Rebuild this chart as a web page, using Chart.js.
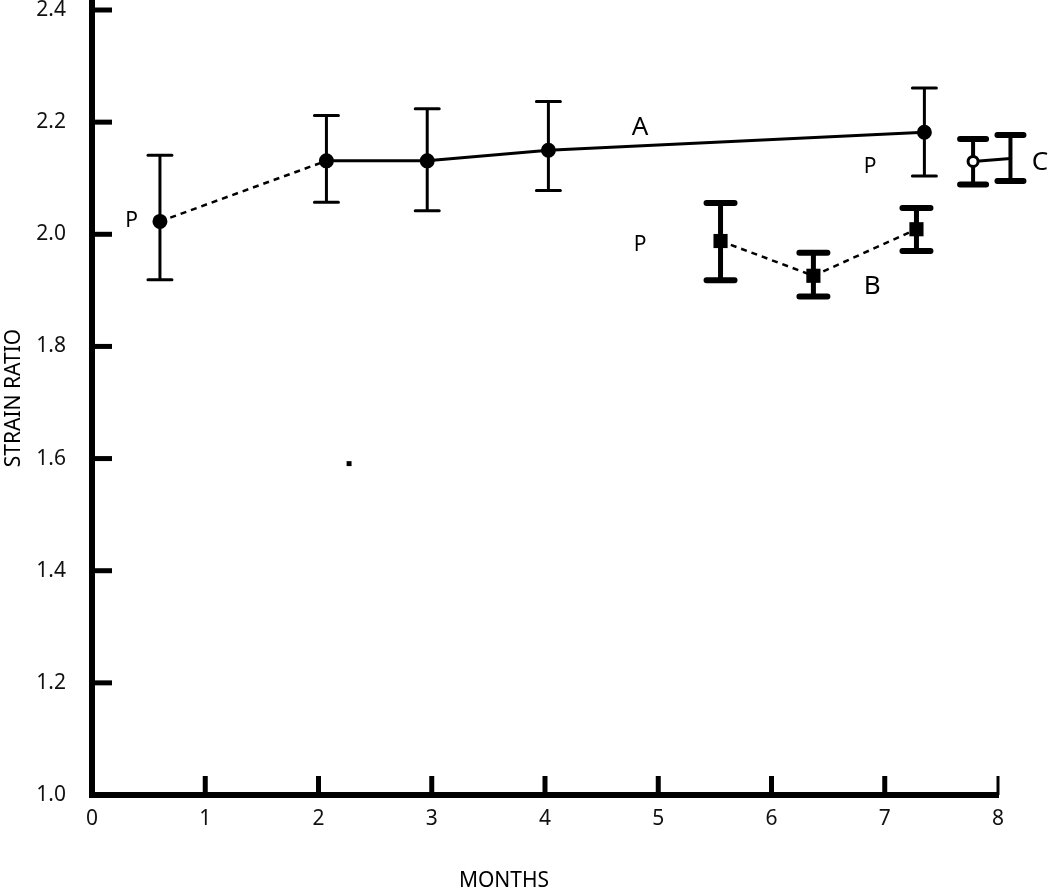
<!doctype html>
<html>
<head>
  <meta charset="utf-8">
  <title>Strain Ratio</title>
  <style>
    html, body { margin: 0; padding: 0; background: #fff; }
    .chartBox { width: 1050px; height: 892px; }
  </style>
</head>
<body>
  <div class="chartBox"><canvas id="myChart"></canvas></div>

  <script src="https://cdn.jsdelivr.net/npm/chart.js"></script>
  <script>
    // series A (filled circles)
    const monthsA = [0.6, 2.07, 2.96, 4.03, 7.35];
    const ratioA = [2.023, 2.131, 2.131, 2.15, 2.182];
    const lowA = [1.919, 2.057, 2.042, 2.078, 2.104];
    const highA = [2.141, 2.212, 2.224, 2.237, 2.261];

    // series B (filled squares)
    const monthsB = [5.55, 6.37, 7.28];
    const ratioB = [1.988, 1.926, 2.009];
    const lowB = [1.918, 1.889, 1.970];
    const highB = [2.056, 1.967, 2.047];

    // series C (open circles)
    const monthsC = [7.78, 8.11];
    const ratioC = [2.130, 2.135];
    const lowC = [2.089, 2.095];
    const highC = [2.170, 2.177];

    // stray speck in the original figure
    const speckX = [2.27];
    const speckY = [1.591];

    const xTicks = [0, 1, 2, 3, 4, 5, 6, 7, 8];
    const yTicks = [1.0, 1.2, 1.4, 1.6, 1.8, 2.0, 2.2, 2.4];

    const notes = [
      { text: 'P', x: 0.35, y: 2.023, size: 21 },
      { text: 'P', x: 4.84, y: 1.98, size: 21 },
      { text: 'P', x: 6.87, y: 2.12, size: 21 },
      { text: 'A', x: 4.84, y: 2.19, size: 26 },
      { text: 'B', x: 6.89, y: 1.906, size: 26 },
      { text: 'C', x: 8.37, y: 2.127, size: 26 }
    ];

    const FONT = "'Noto Sans', 'Open Sans', sans-serif";
    const pts = (xs, ys) => xs.map((x, i) => ({ x: x, y: ys[i] }));

    const errBars = [
      { ds: 0, low: lowA, high: highA, cap: 12, capW: 3, w: 3 },
      { ds: 1, low: lowB, high: highB, cap: 14, capW: 6, w: 5 },
      { ds: 2, low: lowC, high: highC, cap: 13, capW: 6, w: 4 }
    ];

    const errorBarPlugin = {
      id: 'errorBars',
      beforeDatasetsDraw(chart) {
        const { ctx, scales: { x, y } } = chart;
        ctx.save();
        ctx.strokeStyle = '#000';
        errBars.forEach((e) => {
          const d = chart.data.datasets[e.ds].data;
          d.forEach((p, i) => {
            const px = x.getPixelForValue(p.x);
            const yl = y.getPixelForValue(e.low[i]);
            const yh = y.getPixelForValue(e.high[i]);
            ctx.lineWidth = e.w;
            ctx.lineCap = 'butt';
            ctx.beginPath();
            ctx.moveTo(px, yl);
            ctx.lineTo(px, yh);
            ctx.stroke();
            ctx.lineWidth = e.capW;
            ctx.lineCap = 'round';
            ctx.beginPath();
            ctx.moveTo(px - e.cap, yl);
            ctx.lineTo(px + e.cap, yl);
            ctx.moveTo(px - e.cap, yh);
            ctx.lineTo(px + e.cap, yh);
            ctx.stroke();
          });
        });
        ctx.restore();
      }
    };

    const decorPlugin = {
      id: 'decor',
      afterDraw(chart) {
        const { ctx, scales: { x, y } } = chart;
        ctx.save();
        ctx.strokeStyle = '#000';
        ctx.fillStyle = '#000';
        ctx.lineWidth = 5;
        ctx.lineCap = 'butt';
        // inward tick marks
        const x0 = x.getPixelForValue(0);
        const y0 = y.getPixelForValue(1.0);
        yTicks.slice(1).forEach((v) => {
          const py = y.getPixelForValue(v);
          ctx.beginPath();
          ctx.moveTo(x0, py);
          ctx.lineTo(x0 + 20, py);
          ctx.stroke();
        });
        xTicks.slice(1).forEach((v) => {
          const px = x.getPixelForValue(v);
          ctx.lineWidth = v === 8 ? 3 : 5;
          ctx.beginPath();
          ctx.moveTo(px, y0);
          ctx.lineTo(px, y0 - 19);
          ctx.stroke();
        });
        // axis line runs a little above 2.4
        ctx.lineWidth = 6;
        ctx.beginPath();
        ctx.moveTo(x0, y.getPixelForValue(2.4));
        ctx.lineTo(x0, 0);
        ctx.stroke();

        // point labels
        ctx.textAlign = 'center';
        ctx.textBaseline = 'middle';
        notes.forEach((n) => {
          ctx.font = n.size + 'px ' + FONT;
          ctx.fillText(n.text, x.getPixelForValue(n.x), y.getPixelForValue(n.y));
        });

        // axis titles
        ctx.font = '21px ' + FONT;
        ctx.fillText('MONTHS', 504, 881);
        ctx.translate(14, 398);
        ctx.rotate(-Math.PI / 2);
        ctx.fillText('STRAIN RATIO', 0, 0);
        ctx.restore();
      }
    };

    const data = {
      datasets: [
        {
          label: 'A',
          data: pts(monthsA, ratioA),
          borderColor: '#000',
          backgroundColor: '#000',
          borderWidth: 3,
          pointRadius: 6,
          pointStyle: 'circle',
          clip: false,
          segment: {
            borderDash: (c) => (c.p0DataIndex === 0 ? [6, 5] : undefined),
            borderWidth: (c) => (c.p0DataIndex === 0 ? 2.5 : 3)
          }
        },
        {
          label: 'B',
          data: pts(monthsB, ratioB),
          borderColor: '#000',
          backgroundColor: '#000',
          borderWidth: 2.5,
          borderDash: [6, 5],
          pointRadius: 10,
          pointStyle: 'rect',
          pointBorderWidth: 0,
          clip: false
        },
        {
          label: 'C',
          data: pts(monthsC, ratioC),
          borderColor: '#000',
          backgroundColor: '#fff',
          borderWidth: 3,
          pointRadius: 5,
          pointBorderWidth: 3,
          pointStyle: 'circle',
          clip: false
        },
        {
          label: 'speck',
          data: pts(speckX, speckY),
          showLine: false,
          backgroundColor: '#000',
          borderColor: '#000',
          pointStyle: 'rect',
          pointRadius: 3.5,
          pointBorderWidth: 0
        }
      ]
    };

    const config = {
      type: 'line',
      data,
      options: {
        responsive: true,
        maintainAspectRatio: false,
        animation: false,
        layout: { padding: { top: 4, right: 52, left: 0, bottom: 0 } },
        scales: {
          x: {
            type: 'linear',
            min: 0,
            max: 8,
            afterFit: (s) => { s.height = 97; s.paddingLeft = 0; s.paddingRight = 0; },
            afterBuildTicks: (s) => { s.ticks = xTicks.map((v) => ({ value: v })); },
            grid: { display: false, drawTicks: false },
            border: { display: true, color: '#000', width: 6 },
            ticks: { color: '#111', padding: 11, font: { family: FONT, size: 21 } }
          },
          y: {
            min: 1.0,
            max: 2.4,
            afterFit: (s) => { s.width = 92; s.paddingTop = 0; s.paddingBottom = 0; },
            afterBuildTicks: (s) => { s.ticks = yTicks.map((v) => ({ value: v })); },
            grid: { display: false, drawTicks: false },
            border: { display: true, color: '#000', width: 6 },
            ticks: {
              color: '#111',
              padding: 26,
              font: { family: FONT, size: 21 },
              callback: (v) => Number(v).toFixed(1)
            }
          }
        },
        plugins: {
          legend: { display: false },
          tooltip: { enabled: false }
        }
      },
      plugins: [errorBarPlugin, decorPlugin]
    };

    const myChart = new Chart(document.getElementById('myChart'), config);
  </script>
</body>
</html>
